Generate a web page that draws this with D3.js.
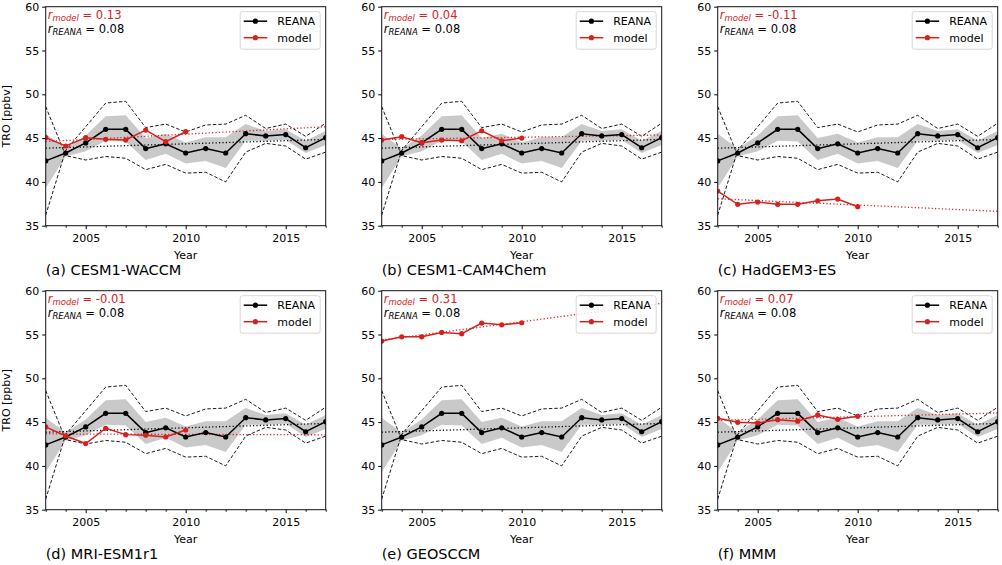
<!DOCTYPE html>
<html><head><meta charset="utf-8">
<script src="https://cdn.jsdelivr.net/npm/d3@7"></script>
<style>body{margin:0;background:#fff}svg{display:block}text{font-family:"DejaVu Sans",sans-serif}</style>
</head><body><svg id="c" width="1002" height="565"></svg>
<script>
const years = [2003,2004,2005,2006,2007,2008,2009,2010,2011,2012,2013,2014,2015,2016,2017];
const modelYears = [2003,2004,2005,2006,2007,2008,2009,2010];
const reanaMean  = [42.4,43.3,44.45,46.0,46.0,43.8,44.35,43.3,43.8,43.3,45.5,45.25,45.4,43.9,45.05];
const bandUpper  = [45.5,43.8,45.3,47.5,47.6,45.0,45.5,44.5,45.1,45.1,46.6,45.8,46.0,44.7,45.8];
const bandLower  = [39.3,42.9,43.5,44.7,44.6,42.5,43.2,42.1,42.4,41.6,44.7,44.7,44.8,43.3,44.2];
const dashA      = [36.2,43.6,46.3,49.0,49.2,46.2,46.6,45.7,46.5,46.6,47.6,46.1,46.6,45.2,46.7];
const dashB      = [48.6,43.0,42.5,42.9,42.7,41.4,42.0,41.0,41.1,40.0,43.4,44.4,44.1,42.6,43.4];
const reanaTrend = [43.85,44.85];
const rReana = "0.08";

const panelLabels = ["(a) CESM1-WACCM","(b) CESM1-CAM4Chem","(c) HadGEM3-ES","(d) MRI-ESM1r1","(e) GEOSCCM","(f) MMM"];
const rModel = ["0.13","0.04","-0.11","-0.01","0.31","0.07"];
const modelCESMWACCM = [45.05,44.1,45.05,44.86,44.78,45.92,44.59,45.73];
const modelCESMCAM   = [44.78,45.16,44.48,44.78,44.7,45.84,44.7,45.0];
const modelHadGEM    = [38.96,37.44,37.7,37.44,37.44,37.85,38.04,37.17];
const modelMRI       = [44.45,43.42,42.55,44.3,43.57,43.5,43.3,44.1];
const modelGEOSCCM   = [54.25,54.74,54.74,55.24,55.09,56.3,56.1,56.34];
const modelMMM       = [45.44,44.98,44.9,45.28,45.1,45.82,45.32,45.66];
const modelTrendStart = [44.6,44.85,38.08,43.65,54.36,45.2];
const modelTrendEnd   = [46.3,45.35,36.64,43.55,58.55,46.04];
const models = [modelCESMWACCM,modelCESMCAM,modelHadGEM,modelMRI,modelGEOSCCM,modelMMM];
const yTicks = [35,40,45,50,55,60];
const xTicks = [2005,2010,2015];

const RED = "#d8201e";
const svg = d3.select("#c");
const W = 280, H = 219;
const lefts = [45.7,381.7,717.7], tops = [6.7,290.7];

panelLabels.forEach((lab,i)=>{
  const col = i%3, row = Math.floor(i/3);
  const g = svg.append("g").attr("transform",`translate(${lefts[col]},${tops[row]})`);
  const x = d3.scaleLinear().domain([2003,2017]).range([0,W]);
  const y = d3.scaleLinear().domain([35,60]).range([H,0]);
  const clipId = "clip"+i;
  g.append("clipPath").attr("id",clipId).append("rect").attr("width",W).attr("height",H);
  const pg = g.append("g").attr("clip-path",`url(#${clipId})`);

  // band
  pg.append("path").datum(years.map((yr,k)=>[yr,bandLower[k],bandUpper[k]]))
    .attr("d",d3.area().x(d=>x(d[0])).y0(d=>y(d[1])).y1(d=>y(d[2])))
    .attr("fill","#c9c9c9").attr("stroke","none");
  const line = d3.line().x(d=>x(d[0])).y(d=>y(d[1]));
  [dashA,dashB].forEach(arr=>{
    pg.append("path").datum(years.map((yr,k)=>[yr,arr[k]])).attr("d",line)
      .attr("fill","none").attr("stroke","#000").attr("stroke-width",0.9).attr("stroke-dasharray","3.5,2");
  });
  // reana trend
  pg.append("path").datum([[2003,reanaTrend[0]],[2017,reanaTrend[1]]]).attr("d",line)
    .attr("fill","none").attr("stroke","#000").attr("stroke-width",1.3).attr("stroke-dasharray","1.2,2.2");
  // model trend
  pg.append("path").datum([[2003,modelTrendStart[i]],[2017,modelTrendEnd[i]]]).attr("d",line)
    .attr("fill","none").attr("stroke",RED).attr("stroke-width",1.3).attr("stroke-dasharray","1.2,2.2");
  // reana
  pg.append("path").datum(years.map((yr,k)=>[yr,reanaMean[k]])).attr("d",line)
    .attr("fill","none").attr("stroke","#000").attr("stroke-width",1.5);
  pg.selectAll(".rd").data(years.map((yr,k)=>[yr,reanaMean[k]])).enter().append("circle")
    .attr("cx",d=>x(d[0])).attr("cy",d=>y(d[1])).attr("r",2.6).attr("fill","#000");
  // model
  const md = modelYears.map((yr,k)=>[yr,models[i][k]]);
  pg.append("path").datum(md).attr("d",line).attr("fill","none").attr("stroke",RED).attr("stroke-width",1.5);
  pg.selectAll(".md").data(md).enter().append("circle")
    .attr("cx",d=>x(d[0])).attr("cy",d=>y(d[1])).attr("r",2.6).attr("fill",RED);

  // axes
  const ya = g.append("g").call(d3.axisLeft(y).tickValues(yTicks).tickSize(3.5).tickPadding(3));
  ya.select(".domain").remove();
  ya.selectAll("text").attr("font-size",11).attr("fill","#000").style("font-family","DejaVu Sans");
  const xa = g.append("g").attr("transform",`translate(0,${H})`)
    .call(d3.axisBottom(x).tickValues(xTicks).tickFormat(d3.format("d")).tickSize(3.5).tickPadding(5));
  xa.select(".domain").remove();
  xa.selectAll("text").attr("font-size",11).attr("fill","#000").style("font-family","DejaVu Sans");
  const xm = g.append("g").attr("transform",`translate(0,${H})`)
    .call(d3.axisBottom(x).tickValues(years.filter(v=>!xTicks.includes(v))).tickSize(2).tickFormat(""));
  xm.select(".domain").remove();
  g.append("rect").attr("width",W).attr("height",H).attr("fill","none").attr("stroke","#111").attr("stroke-width",1);

  // texts
  g.append("text").attr("x",W/2).attr("y",H+33.5).attr("text-anchor","middle").attr("font-size",11).text("Year");
  g.append("text").attr("x",0).attr("y",H+49).attr("font-size",14.5).text(lab);
  if(col===0){
    g.append("text").attr("transform",`translate(${-35.5},${H/2}) rotate(-90)`).attr("text-anchor","middle")
      .attr("font-size",11).text("TRO [ppbv]");
  }
  const t1 = g.append("text").attr("x",2).attr("y",12.3).attr("font-size",11.5).attr("fill",RED);
  t1.append("tspan").attr("font-style","italic").text("r");
  t1.append("tspan").attr("font-style","italic").attr("font-size",8.5).attr("dy",2).text("model");
  t1.append("tspan").attr("dy",-2).text(" = "+rModel[i]);
  const t2 = g.append("text").attr("x",2).attr("y",26.3).attr("font-size",11.5).attr("fill","#000");
  t2.append("tspan").attr("font-style","italic").text("r");
  t2.append("tspan").attr("font-style","italic").attr("font-size",8.5).attr("dy",2).text("REANA");
  t2.append("tspan").attr("dy",-2).text(" = "+rReana);

  // legend
  const lg = g.append("g").attr("transform",`translate(${W-85.5},5)`);
  lg.append("rect").attr("width",80).attr("height",37.5).attr("rx",2.5)
    .attr("fill","#fff").attr("fill-opacity",0.8).attr("stroke","#ccc").attr("stroke-width",0.8);
  [["REANA","#000",9.5],["model",RED,26]].forEach(([name,c,yy])=>{
    lg.append("line").attr("x1",3.5).attr("x2",27).attr("y1",yy).attr("y2",yy).attr("stroke",c).attr("stroke-width",1.5);
    lg.append("circle").attr("cx",15.2).attr("cy",yy).attr("r",2.6).attr("fill",c);
    lg.append("text").attr("x",37).attr("y",yy+4).attr("font-size",11).text(name);
  });
});
</script></body></html>
